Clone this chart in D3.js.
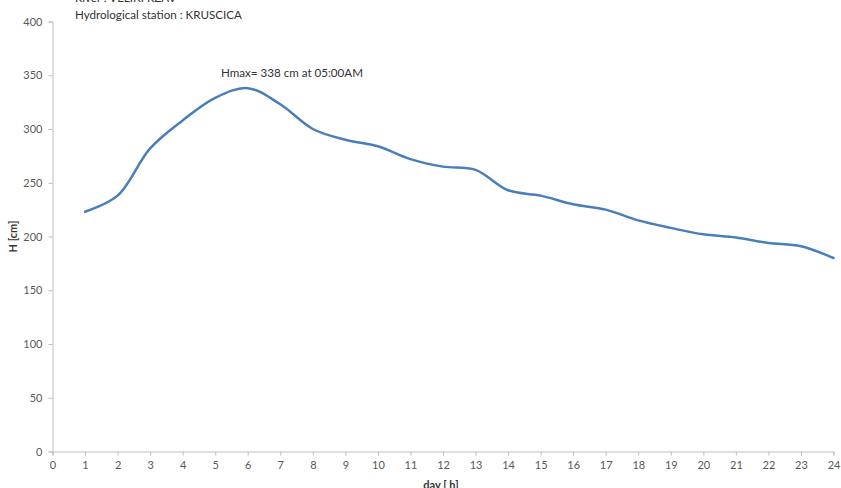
<!DOCTYPE html>
<html><head><meta charset="utf-8">
<script src="https://cdn.jsdelivr.net/npm/d3@7"></script>
<style>body{margin:0;background:#fff}svg{display:block}text{font-family:Lato,"Open Sans",sans-serif}</style>
</head><body>
<script>
const hours = [1,2,3,4,5,6,7,8,9,10,11,12,13,14,15,16,17,18,19,20,21,22,23,24];
const levels = [223,238,282,308,329,338,323,300,290,284,272,265,262,243,238,230,225,215,208,202,199,194,191,180];
const xTicks = d3.range(0,25);
const yTicks = [0,50,100,150,200,250,300,350,400];
const titleLines = ["River : VELIKI RZAV","Hydrological station : KRUSCICA"];
const annotation = "Hmax= 338 cm at 05:00AM";
const xLabel = "day [ h]", yLabel = "H [cm]";

const W=841,H=488;
const svg=d3.select("body").append("svg").attr("width",W).attr("height",H);
const x=d3.scaleLinear().domain([0,24]).range([52.5,833.5]);
const y=d3.scaleLinear().domain([0,400]).range([451.5,21.5]);

const axisColor="#bfbfbf", tickTextColor="#595959";
const gx=svg.append("g").attr("transform",`translate(0,${y(0)})`)
  .call(d3.axisBottom(x).tickValues(xTicks).tickSize(4).tickPadding(6).tickFormat(d3.format("d")));
const gy=svg.append("g").attr("transform",`translate(${x(0)},0)`)
  .call(d3.axisLeft(y).tickValues(yTicks).tickSize(4).tickPadding(6).tickFormat(d3.format("d")));
[gx,gy].forEach(g=>{
  g.select(".domain").attr("stroke",axisColor);
  g.selectAll(".tick line").attr("stroke",axisColor);
  g.selectAll(".tick text").attr("fill",tickTextColor).style("font-size","11px").style("font-family","Lato,sans-serif");
});

const line=d3.line().x((d,i)=>x(hours[i])).y(d=>y(d)).curve(d3.curveCatmullRom.alpha(0.5));
svg.append("path").attr("d",line(levels)).attr("fill","none").attr("stroke","#4a7ebb").attr("stroke-width",2.5).attr("stroke-linecap","round");

svg.selectAll(".title").data(titleLines).enter().append("text")
  .attr("x",75).attr("y",(d,i)=>2+i*17).attr("fill","#333").style("font-size","11.6px").text(d=>d);

svg.append("text").attr("x",221).attr("y",77).attr("fill","#333").style("font-size","11.6px").text(annotation);

svg.append("text").attr("transform",`translate(17,${y(200)}) rotate(-90)`).attr("text-anchor","middle")
  .attr("fill","#333").style("font-size","11px").style("font-weight","bold").text(yLabel);
svg.append("text").attr("x",441).attr("y",489).attr("text-anchor","middle")
  .attr("fill","#333").style("font-size","11px").style("font-weight","bold").text(xLabel);
</script>
</body></html>
